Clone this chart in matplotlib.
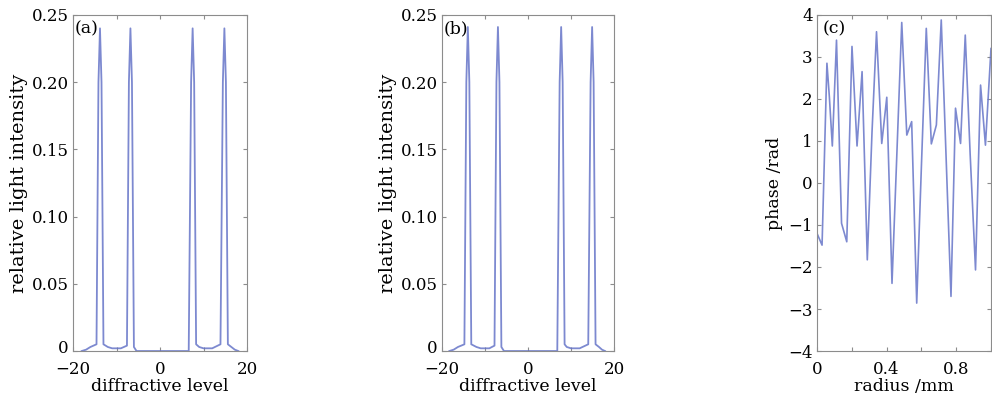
import matplotlib
matplotlib.use('Agg')
import matplotlib.pyplot as plt
import matplotlib.transforms as mtransforms

plt.rcParams['font.family'] = ['DejaVu Serif']
plt.rcParams['mathtext.fontset'] = 'dejavuserif'

# (a) intensidade x ordem de difracao
nivel_a = [-18, -17, -16, -14.6, -14.15, -13.8, -13.45, -13.0, -12, -11, -10, -9, -7.6,
           -7.15, -6.8, -6.45, -6.0, -5.4, -4, 0, 4, 6.6, 7.15, 7.5, 7.85, 8.3, 9, 10, 11, 12, 13.9,
           14.45, 14.8, 15.15, 15.6, 16.4, 17.2, 18]
intens_a = [0.0, 0.001, 0.003, 0.005, 0.2, 0.24, 0.2, 0.005, 0.003, 0.002, 0.002, 0.002, 0.004,
            0.2, 0.24, 0.2, 0.003, 0.0, 0.0, 0.0, 0.0, 0.0, 0.2, 0.24, 0.2, 0.005, 0.003, 0.002, 0.002, 0.002, 0.005,
            0.2, 0.24, 0.2, 0.005, 0.003, 0.001, 0.0]

# (b)
nivel_b = [-18.3, -17.3, -16.3, -14.8, -14.35, -14.0, -13.65, -13.2, -12, -11, -10, -9, -7.8,
           -7.35, -7.0, -6.65, -6.2, -5.6, -4, 0, 4, 6.8, 7.35, 7.7, 8.05, 8.5, 9, 10, 11, 12, 14.0,
           14.55, 14.9, 15.25, 15.7, 16.5, 17.2, 17.9]
intens_b = [0.0, 0.001, 0.003, 0.005, 0.2, 0.241, 0.2, 0.005, 0.003, 0.002, 0.002, 0.002, 0.004,
            0.2, 0.241, 0.2, 0.003, 0.0, 0.0, 0.0, 0.0, 0.0, 0.2, 0.241, 0.2, 0.005, 0.003, 0.002, 0.002, 0.002, 0.005,
            0.2, 0.241, 0.2, 0.005, 0.003, 0.001, 0.0]

# (c) fase x raio
raio = [0.000, 0.029, 0.057, 0.071, 0.088, 0.112, 0.141, 0.171, 0.201, 0.230, 0.259, 0.289,
        0.316, 0.342, 0.372, 0.401, 0.431, 0.459, 0.487, 0.516, 0.544, 0.573, 0.600, 0.628,
        0.657, 0.686, 0.714, 0.742, 0.770, 0.796, 0.825, 0.852, 0.880, 0.911, 0.940, 0.968, 1.000]
fase = [-1.2, -1.48, 2.85, 2.05, 0.88, 3.4, -0.96, -1.4, 3.25, 0.88, 2.65, -1.83,
        1.2, 3.6, 0.94, 2.04, -2.39, 0.7, 3.82, 1.14, 1.46, -2.86, 0.4, 3.68,
        0.93, 1.38, 3.88, 0.6, -2.7, 1.78, 0.94, 3.52, 0.7, -2.07, 2.33, 0.9, 3.2]

cor = '#6675c8'
cinza = '#8c8c8c'

fig = plt.figure(figsize=(9.92, 4.03), dpi=100)
ax1 = fig.add_axes([0.0736, 0.129, 0.1754, 0.834])
ax2 = fig.add_axes([0.4456, 0.129, 0.1734, 0.834])
ax3 = fig.add_axes([0.8236, 0.129, 0.1754, 0.834])


def estilo(ax):
    for s in ax.spines.values():
        s.set_color(cinza)
    ax.tick_params(direction='in', top=True, right=True, length=3, color=cinza,
                   labelsize=12)
    ax.tick_params(axis='x', pad=7)
    ax.tick_params(axis='y', pad=3)


for ax, x, y, letra in [(ax1, nivel_a, intens_a, '(a)'), (ax2, nivel_b, intens_b, '(b)')]:
    ax.plot(x, y, color=cor, lw=1.3, alpha=0.85)
    ax.set_xlim(-20, 20)
    ax.set_ylim(0, 0.25)
    ax.set_xticks([-20, -10, 0, 10, 20])
    ax.set_xticklabels(['\u221220', '', '0', '', '20'])
    ax.set_yticks([0, 0.05, 0.10, 0.15, 0.20, 0.25])
    ax.set_yticklabels(['0', '0.05', '0.10', '0.15', '0.20', '0.25'])
    ax.set_xlabel('diffractive level', fontsize=12.5, labelpad=0)
    ax.set_ylabel('relative light intensity', fontsize=14, labelpad=3)
    ax.text(0.01, 0.985, letra, transform=ax.transAxes, va='top', ha='left', fontsize=12.5)
    estilo(ax)
    # o "0" do eixo y fica um pouco acima, como no original
    rot0 = ax.get_yticklabels()[0]
    rot0.set_transform(rot0.get_transform() + mtransforms.ScaledTranslation(0, 3 / 72, fig.dpi_scale_trans))

ax3.plot(raio, fase, color=cor, lw=1.2, alpha=0.85)
ax3.set_xlim(0, 1)
ax3.set_ylim(-4, 4)
ax3.set_xticks([0, 0.2, 0.4, 0.6, 0.8, 1.0])
ax3.set_xticklabels(['0', '', '0.4', '', '0.8', ''])
ax3.set_yticks(range(-4, 5))
ax3.set_xlabel('radius /mm', fontsize=12.5, labelpad=0)
ax3.set_ylabel('phase /rad', fontsize=12.5, labelpad=4)
ax3.text(0.03, 0.985, '(c)', transform=ax3.transAxes, va='top', ha='left', fontsize=12.5)
estilo(ax3)

fig.savefig('out.png', dpi=100)
